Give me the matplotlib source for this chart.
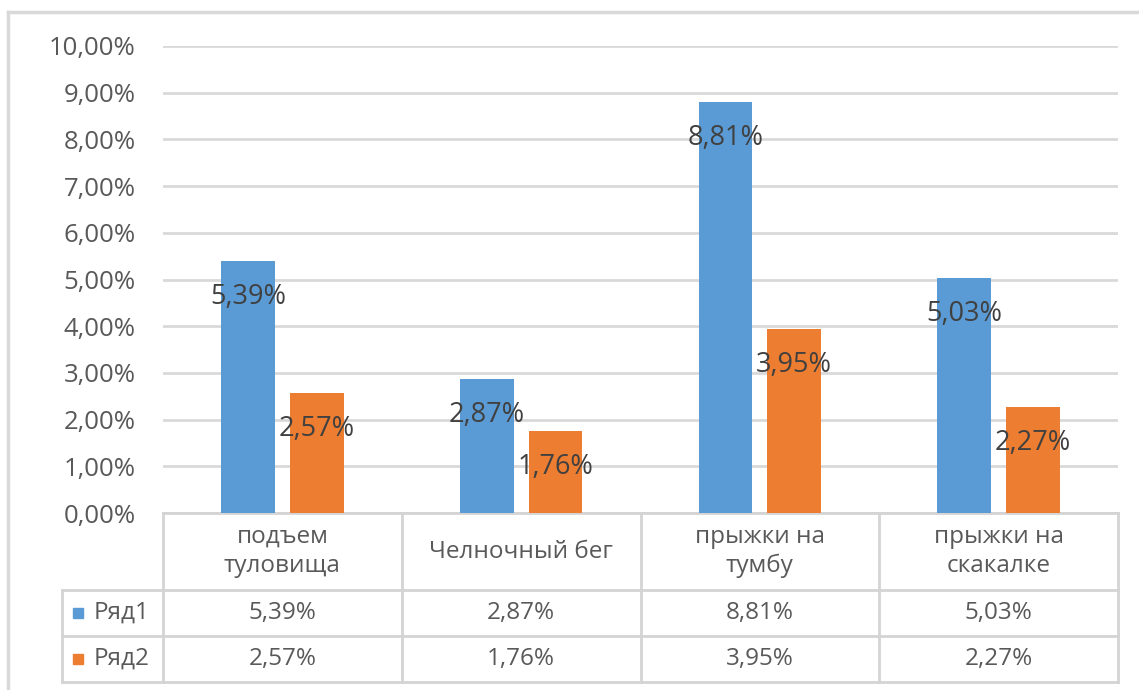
import matplotlib
matplotlib.use("Agg")
import matplotlib.pyplot as plt
from matplotlib.patches import Rectangle
from matplotlib.lines import Line2D
import matplotlib.transforms as mtransforms

categories = ["подъем\nтуловища", "Челночный бег", "прыжки на\nтумбу", "прыжки на\nскакалке"]
series_names = ["Ряд1", "Ряд2"]
row1 = [5.39, 2.87, 8.81, 5.03]
row2 = [2.57, 1.76, 3.95, 2.27]
y_ticks = [0, 1, 2, 3, 4, 5, 6, 7, 8, 9, 10]

colors = ["#5B9BD5", "#ED7D31"]
grid_color = "#D9D9D9"
line_color = "#D4D4D4"
text_color = "#595959"
label_color = "#404040"

plt.rcParams["font.family"] = ["Open Sans", "DejaVu Sans"]

W, H = 1139, 690
fig = plt.figure(figsize=(W / 100, H / 100), dpi=100)

# outer chart frame (top and left edges visible)
fig.add_artist(Line2D([8 / W, 1.0], [1 - 12 / H, 1 - 12 / H], transform=fig.transFigure,
                      color=grid_color, lw=2.5))
fig.add_artist(Line2D([8 / W, 8 / W], [0, 1 - 12 / H], transform=fig.transFigure,
                      color=grid_color, lw=2.5))

x0, x1 = 163, 1118
y_top, y_bot = 46, 513
ax = fig.add_axes([x0 / W, 1 - y_bot / H, (x1 - x0) / W, (y_bot - y_top) / H])

n = len(categories)
width = 0.226
offset = 0.144
xs = list(range(n))

all_series = [row1, row2]
for s, (vals, col) in enumerate(zip(all_series, colors)):
    pos = [x + (-offset if s == 0 else offset) for x in xs]
    ax.bar(pos, vals, width=width, color=col, zorder=3)
    for p, v in zip(pos, vals):
        ax.annotate(f"{v:.2f}%".replace(".", ","), (p, v), xytext=(0, -36),
                    textcoords="offset pixels", ha="center", va="center",
                    fontsize=19.5, color=label_color, zorder=4)

ax.set_xlim(-0.5, n - 0.5)
ax.set_ylim(0, 10)
ax.set_yticks(y_ticks)
ax.set_yticklabels([f"{t:.2f}%".replace(".", ",") for t in y_ticks])
ax.tick_params(axis="y", length=0, pad=19.5, labelsize=18.5, labelcolor=text_color)
ax.set_xticks([])
ax.grid(axis="y", color=grid_color, lw=2, zorder=0)
for sp in ax.spines.values():
    sp.set_visible(False)

# data table under the plot
ax_h = y_bot - y_top
def ay(py):
    return (y_bot - py) / ax_h

trans = mtransforms.blended_transform_factory(ax.transData, ax.transAxes)
leg_left = -0.5 - (x0 - 62) / ((x1 - x0) / n)
rows_y = [513, 590, 636, 682]

def hline(xa, xb, py):
    ax.add_line(Line2D([xa, xb], [ay(py), ay(py)], transform=trans, color=line_color,
                       lw=2, clip_on=False))

def vline(xv, pa, pb):
    ax.add_line(Line2D([xv, xv], [ay(pa), ay(pb)], transform=trans, color=line_color,
                       lw=2, clip_on=False))

hline(-0.5, n - 0.5, rows_y[0])
for py in rows_y[1:]:
    hline(leg_left, n - 0.5, py)
for b in range(n + 1):
    vline(b - 0.5, rows_y[0], rows_y[-1])
vline(leg_left, rows_y[1], rows_y[-1])

for i, cat in enumerate(categories):
    ax.text(i, ay((rows_y[0] + rows_y[1]) / 2), cat, transform=trans, ha="center",
            va="center", fontsize=17.5, color=text_color, linespacing=1.3, clip_on=False)
    for r, vals in enumerate(all_series):
        ax.text(i, ay((rows_y[r + 1] + rows_y[r + 2]) / 2),
                f"{vals[i]:.2f}%".replace(".", ","), transform=trans, ha="center",
                va="center", fontsize=17.5, color=text_color, clip_on=False)

for r, (name, col) in enumerate(zip(series_names, colors)):
    yc = (rows_y[r + 1] + rows_y[r + 2]) / 2
    sq = 10
    fig.add_artist(Rectangle((73 / W, 1 - (yc + sq / 2) / H), sq / W, sq / H,
                             transform=fig.transFigure, color=col))
    fig.text(94 / W, 1 - yc / H, name, ha="left", va="center", fontsize=17.5,
             color=text_color)

fig.savefig("out.png", dpi=100)
